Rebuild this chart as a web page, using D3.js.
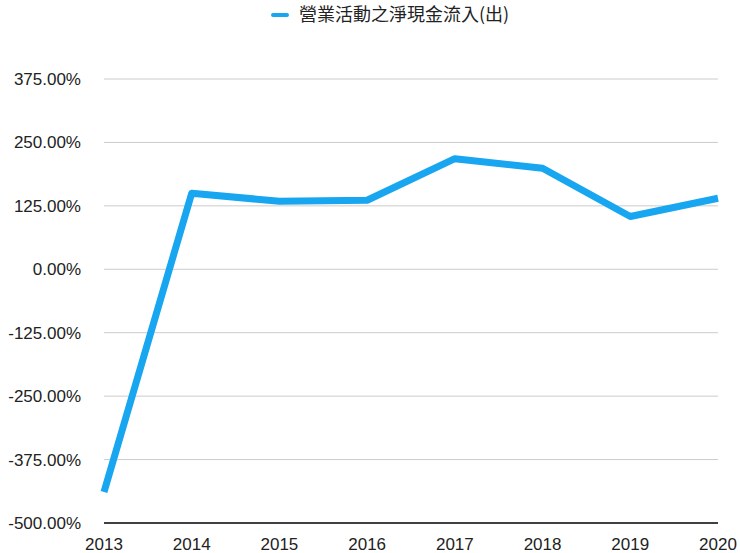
<!DOCTYPE html>
<html><head><meta charset="utf-8">
<script src="https://d3js.org/d3.v7.min.js"></script>
<style>body{margin:0;background:#fff;font-family:"Liberation Sans",Arial,sans-serif;}</style>
</head><body><svg width="740" height="553"></svg>
<script>
const years = ["2013","2014","2015","2016","2017","2018","2019","2020"];
const values = [-439, 150, 134, 136, 218, 199, 104, 140];
const yTicks = [-500,-375,-250,-125,0,125,250,375];
const seriesName = "營業活動之淨現金流入(出)";

const svg = d3.select("svg");
const x = d3.scalePoint().domain(years).range([104, 718]);
const y = d3.scaleLinear().domain([-500, 375]).range([523, 79]);
const fmt = d => d.toFixed(2) + "%";

svg.append("g").selectAll("line").data(yTicks.filter(d=>d!==-500)).join("line")
  .attr("x1",104).attr("x2",718).attr("y1",d=>y(d)).attr("y2",d=>y(d))
  .attr("stroke","#cccccc").attr("stroke-width",1);
svg.append("line").attr("x1",104).attr("x2",718).attr("y1",y(-500)).attr("y2",y(-500))
  .attr("stroke","#000").attr("stroke-width",1.5);

svg.append("g").selectAll("text").data(yTicks).join("text")
  .attr("x",81).attr("y",d=>y(d)).attr("dy","0.35em").attr("text-anchor","end")
  .attr("font-size",17).attr("fill","#222").text(fmt);
svg.append("g").selectAll("text").data(years).join("text")
  .attr("x",d=>x(d)).attr("y",550).attr("text-anchor","middle")
  .attr("font-size",17).attr("fill","#222").text(d=>d);

svg.append("path").datum(values)
  .attr("d", d3.line().x((d,i)=>x(years[i])).y(d=>y(d)))
  .attr("fill","none").attr("stroke","#17a6ef").attr("stroke-width",7)
  .attr("stroke-linejoin","round");

svg.append("line").attr("x1",273).attr("x2",287).attr("y1",15).attr("y2",15)
  .attr("stroke","#17a6ef").attr("stroke-width",4).attr("stroke-linecap","round");
svg.append("text").attr("x",299).attr("y",15).attr("dy","0.35em")
  .attr("font-size",18).attr("fill","#222")
  .attr("font-family","'Noto Sans CJK TC','Liberation Sans',sans-serif").text(seriesName);
</script></body></html>
